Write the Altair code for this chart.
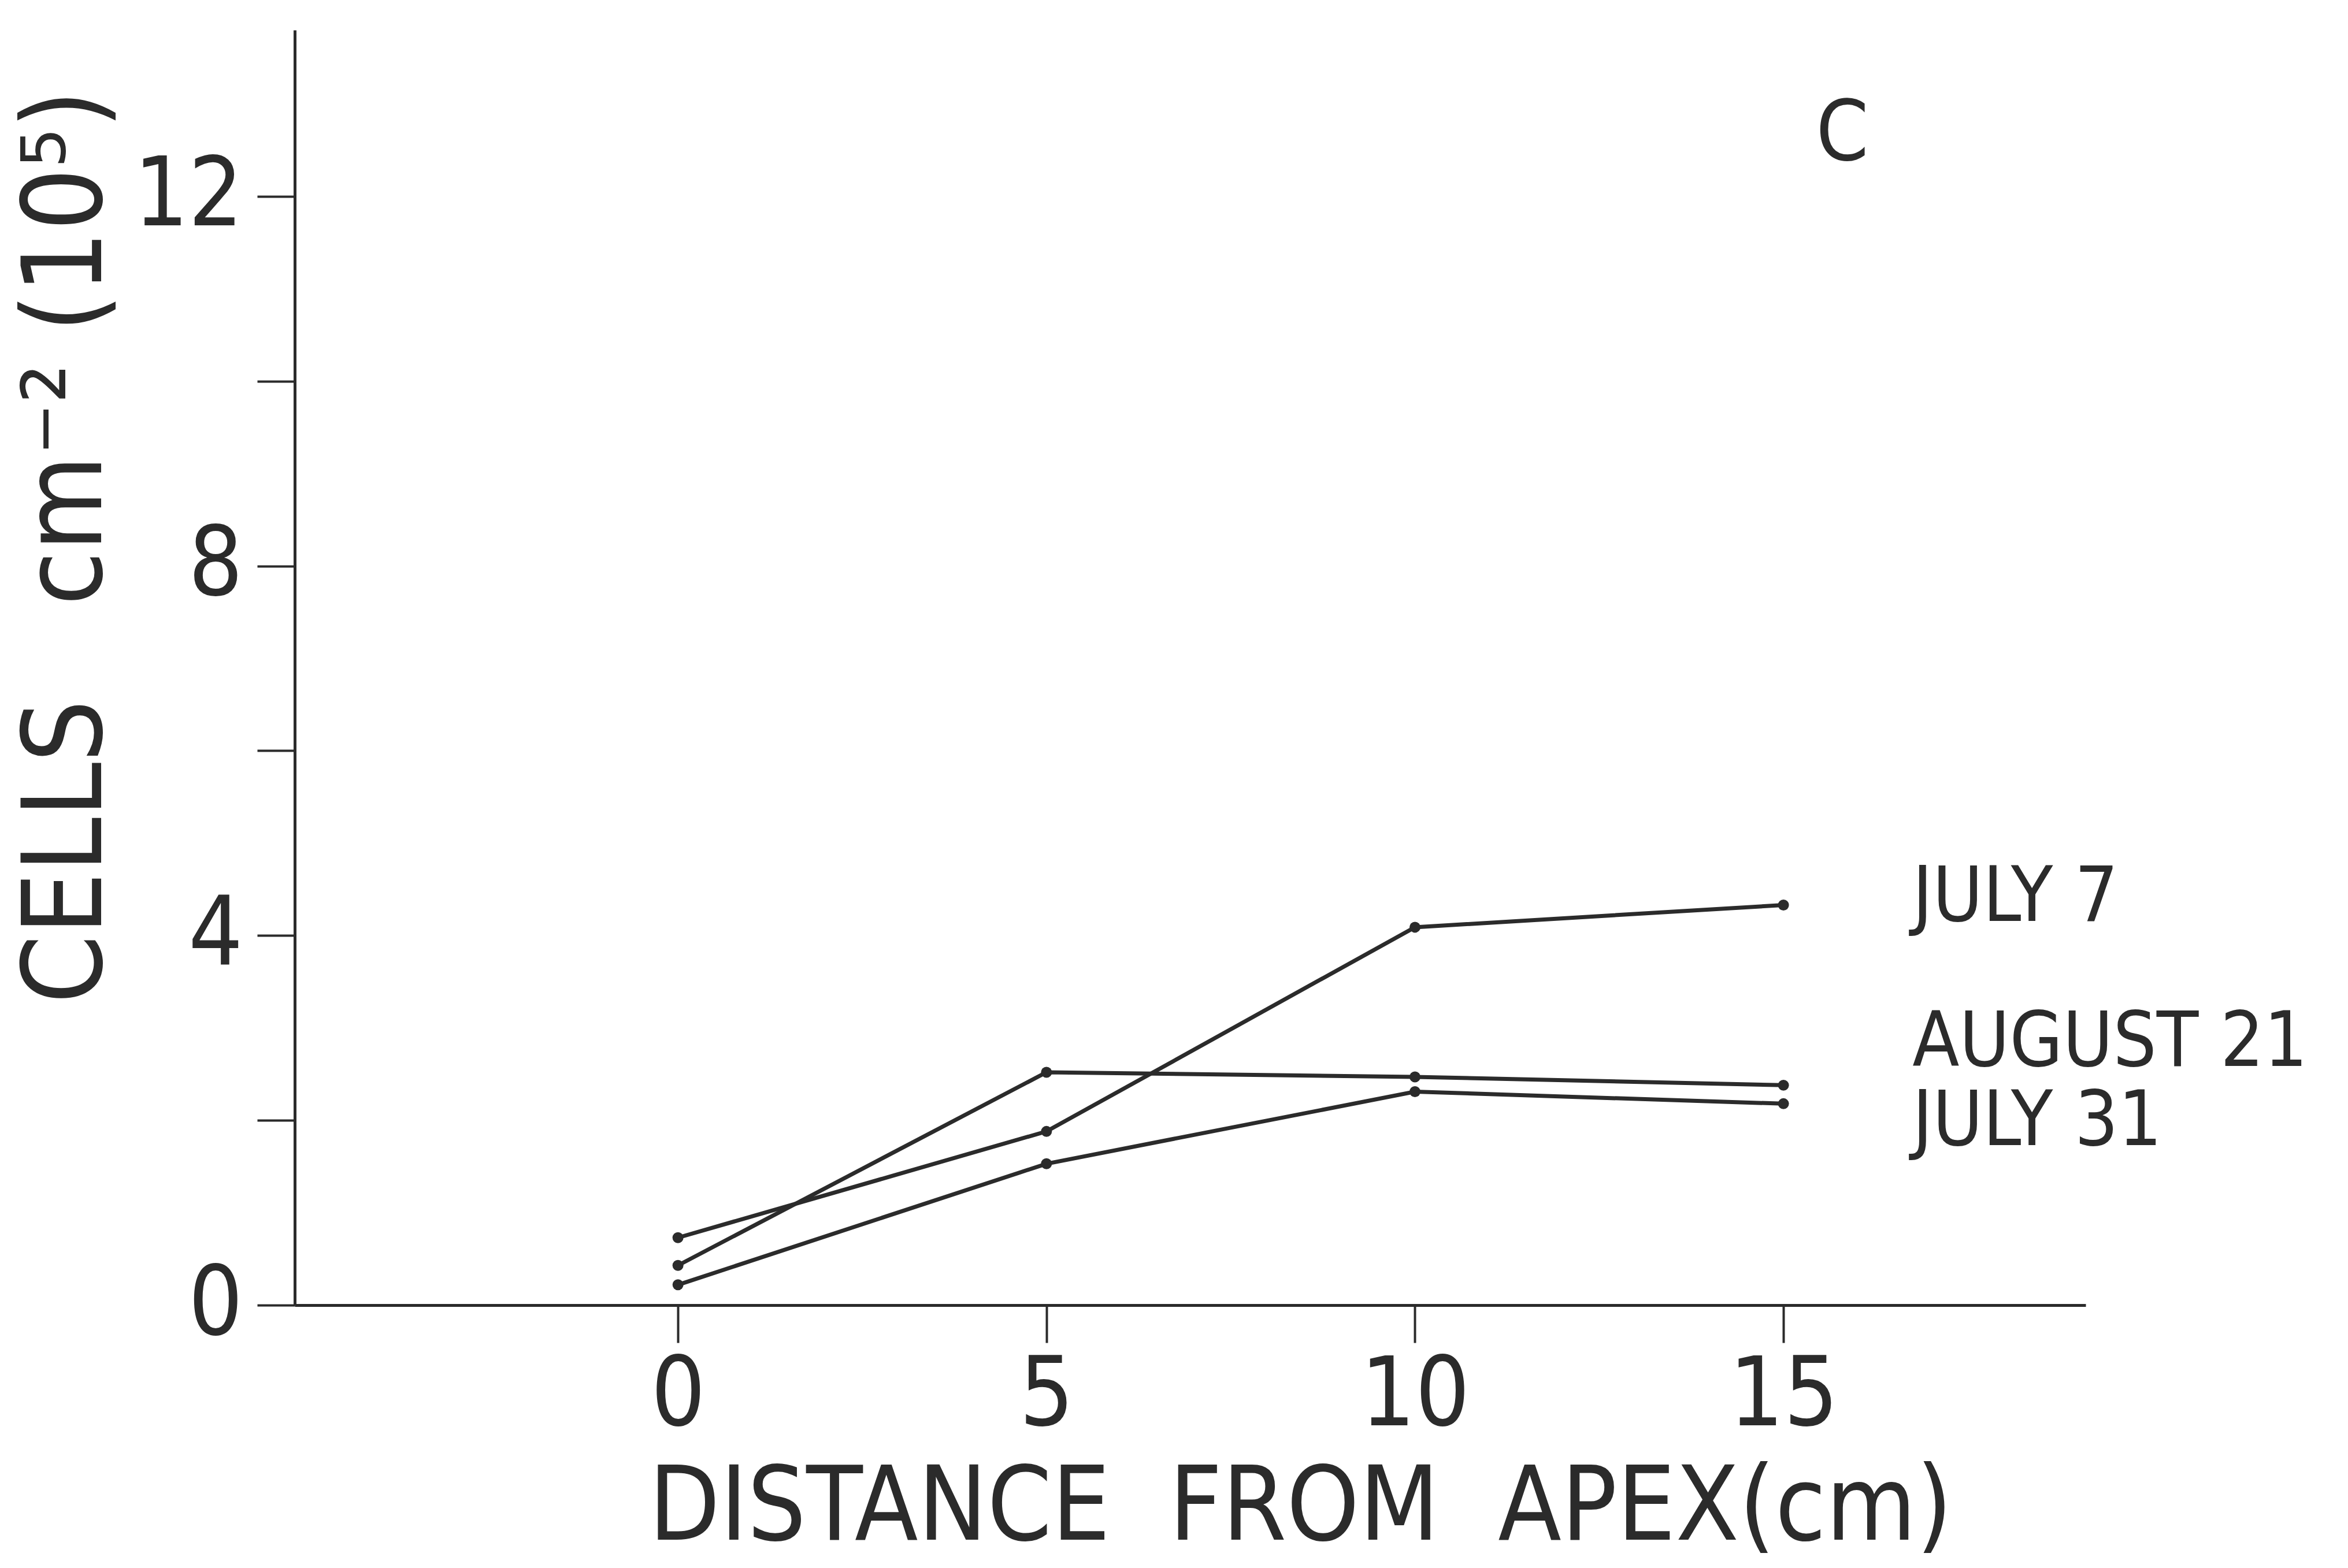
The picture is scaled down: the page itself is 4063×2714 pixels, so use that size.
import altair as alt
import pandas as pd

# ---- data ----
distance = [0, 5, 10, 15]
series_names = ["JULY 7", "AUGUST 21", "JULY 31"]
july7 = [0.73, 1.88, 4.09, 4.33]
aug21 = [0.43, 2.52, 2.47, 2.38]
july31 = [0.22, 1.53, 2.31, 2.18]

x_ticks = [0, 5, 10, 15]
y_ticks = [0, 2, 4, 6, 8, 10, 12]

# annotation anchors (data coordinates)
label_x = [16.75, 16.75, 16.75]
label_y = [4.41, 2.84, 1.98]
panel_letter = "C"
panel_x = [15.8]
panel_y = [12.67]

rows = []
for name, vals in zip(series_names, [july7, aug21, july31]):
    for d, v in zip(distance, vals):
        rows.append({"series": name, "distance": d, "cells": v})
df = pd.DataFrame(rows)
lab_df = pd.DataFrame({"label": series_names, "x": label_x, "y": label_y})
panel_df = pd.DataFrame({"label": [panel_letter], "x": panel_x, "y": panel_y})

FONT = "Liberation Sans Narrow, DejaVu Sans Condensed, Liberation Sans, sans-serif"
INK = "#2b2b2b"
NB = "\u00a0"

xscale = alt.Scale(domain=[-5.2, 19.1], nice=False, zero=False)
yscale = alt.Scale(domain=[0, 13.8], nice=False, zero=False)

x_axis = alt.Axis(
    values=x_ticks, format="d", title=f"DISTANCE{NB*2}FROM{NB*2}APEX(cm)", grid=False,
    domainColor=INK, domainWidth=5, tickColor=INK, tickWidth=4, tickSize=65,
    labelFont=FONT, labelFontSize=165, labelColor=INK, labelPadding=12, labelLimit=0,
    titleFont=FONT, titleFontSize=178, titleFontWeight="normal", titleColor=INK,
    titleX=1740, titleY=352, titleAlign="center", titleBaseline="middle", titleLimit=0,
)
y_axis = alt.Axis(
    values=y_ticks, format="d", labelExpr="datum.value % 4 == 0 ? datum.label : ''",
    title=f"CELLS{NB*3}cm⁻²{NB}(10⁵)", grid=False,
    domainColor=INK, domainWidth=5, tickColor=INK, tickWidth=4, tickSize=65,
    labelFont=FONT, labelFontSize=165, labelColor=INK, labelPadding=25, labelLimit=0,
    titleFont=FONT, titleFontSize=190, titleFontWeight="normal", titleColor=INK,
    titleAngle=270, titleX=-393, titleY=894, titleAlign="center", titleBaseline="middle",
    titleLimit=0,
)

base = alt.Chart(df)
lines = base.mark_line(color=INK, strokeWidth=7).encode(
    x=alt.X("distance:Q", scale=xscale, axis=x_axis),
    y=alt.Y("cells:Q", scale=yscale, axis=y_axis),
    detail="series:N",
)
points = base.mark_circle(color=INK, size=360, opacity=1).encode(
    x=alt.X("distance:Q", scale=xscale),
    y=alt.Y("cells:Q", scale=yscale),
)
labels = alt.Chart(lab_df).mark_text(
    align="left", baseline="middle", font=FONT, fontSize=132, color=INK
).encode(
    x=alt.X("x:Q", scale=xscale),
    y=alt.Y("y:Q", scale=yscale),
    text="label:N",
)
panel = alt.Chart(panel_df).mark_text(
    align="center", baseline="middle", font=FONT, fontSize=145, color=INK
).encode(
    x=alt.X("x:Q", scale=xscale),
    y=alt.Y("y:Q", scale=yscale),
    text="label:N",
)

chart = (
    alt.layer(lines, points, labels, panel)
    .properties(
        width=3099, height=2207,
        autosize=alt.AutoSizeParams(type="none"),
        padding={"left": 502, "top": 44, "right": 440, "bottom": 440},
        background="white",
    )
    .configure_view(stroke=None)
)

chart.save("out.html", embed_options={"renderer": "svg", "actions": False})
